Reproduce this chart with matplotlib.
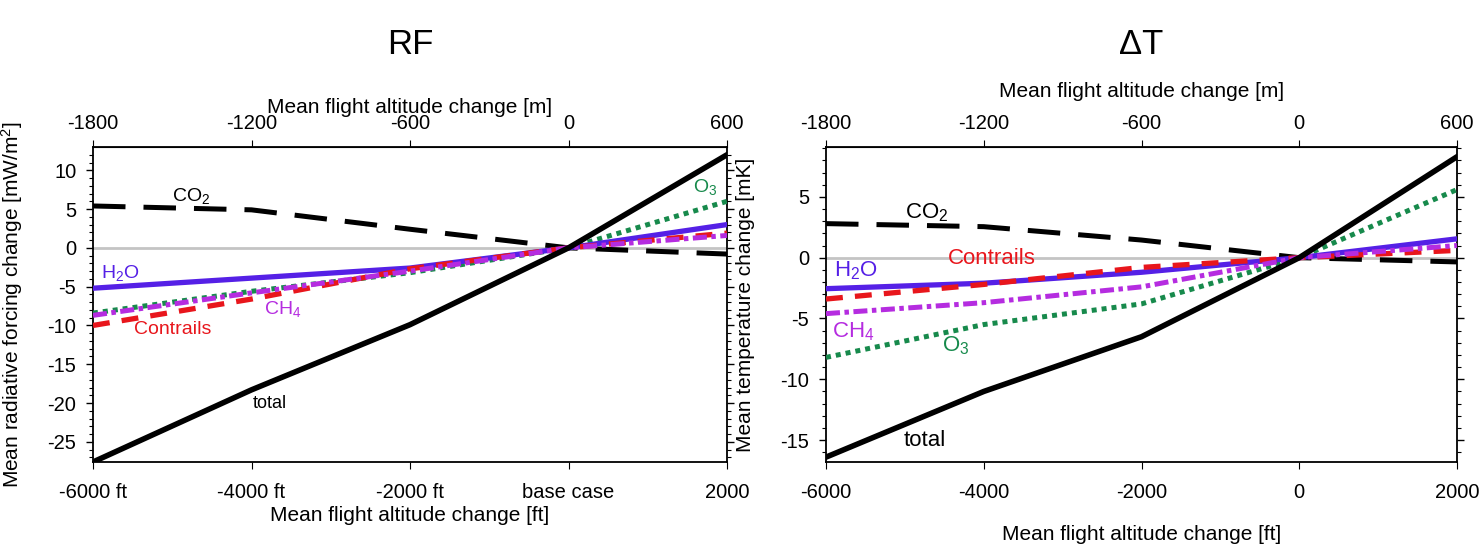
import numpy as np
import matplotlib
matplotlib.use("Agg")
from matplotlib import pyplot as plt

plt.rcParams['font.family'] = ['Liberation Sans', 'DejaVu Sans']
plt.rcParams['mathtext.default'] = 'regular'
plt.rcParams['axes.unicode_minus'] = False

# flight altitude change (ft); top axis shows the same in metres
ft = [-6000, -4000, -2000, 0, 2000]
ft_ticks_rf = ["-6000 ft", "-4000 ft", "-2000 ft", "base case", "2000"]
ft_ticks_dt = ["-6000", "-4000", "-2000", "0", "2000"]
m_ticks = [-1800, -1200, -600, 0, 600]

# radiative forcing change [mW/m2]
rf_co2 = [5.4, 4.9, 2.4, 0.0, -0.8]
rf_h2o = [-5.2, -3.9, -2.6, 0.0, 3.0]
rf_o3 = [-8.4, -5.6, -3.2, 0.0, 6.0]
rf_ch4 = [-8.7, -5.8, -3.0, 0.0, 1.6]
rf_contrails = [-10.0, -6.6, -2.7, 0.0, 1.9]
rf_total = [-27.6, -18.3, -9.9, 0.0, 12.0]

# temperature change [mK]
dt_co2 = [2.8, 2.55, 1.45, 0.0, -0.35]
dt_h2o = [-2.55, -2.1, -1.2, 0.0, 1.55]
dt_contrails = [-3.4, -2.2, -0.8, 0.0, 0.6]
dt_ch4 = [-4.6, -3.7, -2.4, 0.0, 1.0]
dt_o3 = [-8.2, -5.5, -3.8, 0.0, 5.6]
dt_total = [-16.4, -11.0, -6.5, 0.0, 8.3]

C_GREEN = '#178a4c'
C_BLUE = '#5520e6'
C_PURPLE = '#b52ce0'
C_RED = '#e8161c'

W, H = 1481, 548
fig = plt.figure(figsize=(W / 100, H / 100), dpi=100)


def panel(rect, series, ylim, ymajor, xticklabels):
  ax = fig.add_axes(rect)
  ax.axhline(0, color='#c4c4c4', lw=2, zorder=1)
  co2, h2o, o3, ch4, con, tot = series
  ax.plot(ft, co2, color='black', lw=3.6, dashes=(6.5, 3.6), zorder=3)
  ax.plot(ft, o3, color=C_GREEN, lw=3.6, dashes=(1, 1), zorder=3)
  ax.plot(ft, h2o, color=C_BLUE, lw=3.8, zorder=4)
  ax.plot(ft, con, color=C_RED, lw=3.8, dashes=(3.2, 2.3), zorder=4)
  ax.plot(ft, ch4, color=C_PURPLE, lw=3.6, dashes=(2.8, 0.9, 0.9, 0.9), zorder=5)
  ax.plot(ft, tot, color='black', lw=4.0, zorder=6)
  ax.set_xlim(-6000, 2000)
  ax.set_ylim(*ylim)
  ax.set_xticks(ft)
  ax.set_xticklabels(xticklabels)
  ax.set_yticks(ymajor)
  ax.set_yticks(np.arange(np.ceil(ylim[0]), ylim[1], 1), minor=True)
  ax.tick_params(axis='y', which='both', left=True, right=True, direction='out',
                 labelsize=14.5, pad=7)
  ax.tick_params(axis='y', which='major', length=5, width=1)
  ax.tick_params(axis='y', which='minor', length=3, width=0.8)
  ax.tick_params(axis='x', direction='out', length=5, labelsize=14.5, pad=10)
  for s in ax.spines.values():
    s.set_linewidth(1.3)
  top = ax.secondary_xaxis('top', functions=(lambda x: x * 0.3, lambda m: m / 0.3))
  top.set_xticks(m_ticks)
  top.tick_params(direction='out', length=5, labelsize=14.5, pad=5)
  return ax, top


ax1, top1 = panel([93 / W, 1 - 462 / H, 634 / W, 315 / H],
                  (rf_co2, rf_h2o, rf_o3, rf_ch4, rf_contrails, rf_total),
                  (-27.6, 13.0), [-25, -20, -15, -10, -5, 0, 5, 10], ft_ticks_rf)
ax1.set_xlabel("Mean flight altitude change [ft]", fontsize=15, labelpad=3)
top1.set_xlabel("Mean flight altitude change [m]", fontsize=15, labelpad=1)
ax1.set_ylabel("Mean radiative forcing change [mW/m$^2$]", fontsize=15)
ax1.yaxis.set_label_coords(-0.108, 0.5)
ax1.text(-4760, 6.7, "CO$_2$", fontsize=14, color='black', ha='center', va='center')
ax1.text(1720, 7.8, "O$_3$", fontsize=14, color=C_GREEN, ha='center', va='center')
ax1.text(-5650, -3.3, "H$_2$O", fontsize=14, color=C_BLUE, ha='center', va='center')
ax1.text(-3600, -7.9, "CH$_4$", fontsize=14, color=C_PURPLE, ha='center', va='center')
ax1.text(-5000, -10.5, "Contrails", fontsize=14, color=C_RED, ha='center', va='center')
ax1.text(-3770, -20.0, "total", fontsize=13, color='black', ha='center', va='center')

ax2, top2 = panel([826 / W, 1 - 462 / H, 631 / W, 315 / H],
                  (dt_co2, dt_h2o, dt_o3, dt_ch4, dt_contrails, dt_total),
                  (-16.8, 9.1), [-15, -10, -5, 0, 5], ft_ticks_dt)
ax2.set_xlabel("Mean flight altitude change [ft]", fontsize=15, labelpad=17)
top2.set_xlabel("Mean flight altitude change [m]", fontsize=15, labelpad=12)
ax2.set_ylabel("Mean temperature change [mK]", fontsize=15)
ax2.yaxis.set_label_coords(-0.112, 0.5)
ax2.text(-4720, 3.7, "CO$_2$", fontsize=16, color='black', ha='center', va='center')
ax2.text(-3900, -0.05, "Contrails", fontsize=16, color=C_RED, ha='center', va='center')
ax2.text(-5620, -1.05, "H$_2$O", fontsize=16, color=C_BLUE, ha='center', va='center')
ax2.text(-5650, -6.1, "CH$_4$", fontsize=16, color=C_PURPLE, ha='center', va='center')
ax2.text(-4360, -7.2, "O$_3$", fontsize=16, color=C_GREEN, ha='center', va='center')
ax2.text(-4750, -15.0, "total", fontsize=16, color='black', ha='center', va='center')

fig.text(410 / W, 1 - 45 / H, "RF", fontsize=25, ha='center', va='center')
fig.text(1141 / W, 1 - 45 / H, "ΔT", fontsize=25, ha='center', va='center')

fig.savefig("out.png", dpi=100)
